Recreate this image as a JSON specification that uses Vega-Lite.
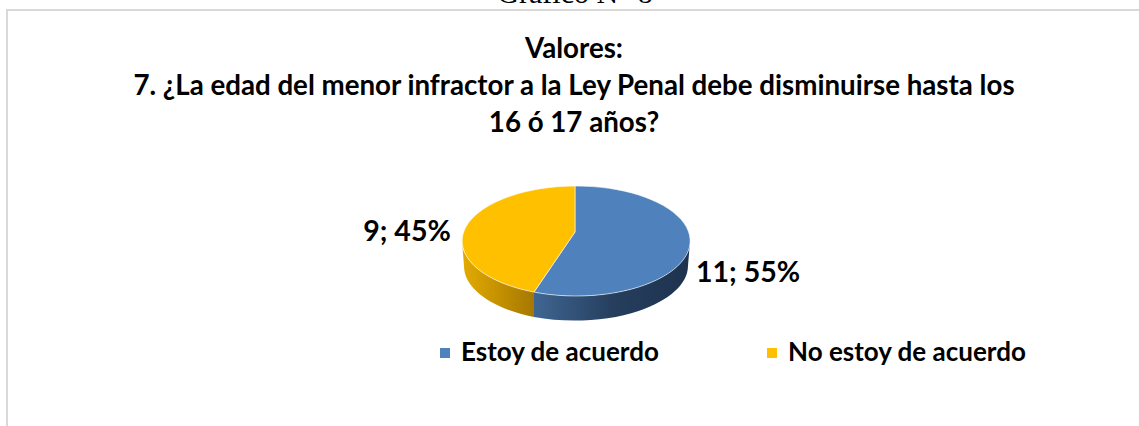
{
"$schema":"https://vega.github.io/schema/vega-lite/v6.json",
"width":1140,"height":425,
"autosize":{"type":"none"},
"padding":{"left":7,"top":10,"right":0,"bottom":0},
"background":"white",
"view":{"stroke":"#d9d9d9","strokeWidth":2,"fill":"white"},
"title":{"text":["Valores:","7. ¿La edad del menor infractor a la Ley Penal debe disminuirse hasta los","16 ó 17 años?"],"anchor":"middle","frame":"group","baseline":"top","offset":-159,"dx":-3,"font":"Lato","fontSize":27.7,"fontWeight":"bold","lineHeight":37,"color":"#000000"},
"data":{"values":[
{"categoria":"Estoy de acuerdo","valor":11,"porcentaje":55,"etiqueta":"11; 55%"},
{"categoria":"No estoy de acuerdo","valor":9,"porcentaje":45,"etiqueta":"9; 45%"}
]},
"layer":[
{"transform":[{"filter":"datum.categoria==='Estoy de acuerdo'"}],
 "mark":{"type":"point","filled":true,"opacity":1,"size":4,"shape":"M113,18.5 A114,55 0 0 1 -43,69.6 L-43,94.6 A114,55 0 0 0 111,43.5 Z",
 "fill":{"gradient":"linear","x1":0,"y1":0,"x2":1,"y2":0,"stops":[{"offset":0,"color":"#3f6692"},{"offset":0.5,"color":"#263f5e"},{"offset":1,"color":"#1d324e"}]}},"encoding":{}},
{"transform":[{"filter":"datum.categoria==='No estoy de acuerdo'"}],
 "mark":{"type":"point","filled":true,"opacity":1,"size":4,"shape":"M-115,18.5 A114,55 0 0 0 -43,69.6 L-43,94.6 A114,55 0 0 1 -113,43.5 Z",
 "fill":{"gradient":"linear","x1":0,"y1":0,"x2":1,"y2":0,"stops":[{"offset":0,"color":"#e3ab00"},{"offset":1,"color":"#a67800"}]}},"encoding":{}},
{"transform":[{"filter":"datum.categoria==='Estoy de acuerdo'"}],
 "mark":{"type":"point","filled":true,"opacity":1,"size":4,"stroke":"#ffffff","strokeWidth":0.6,"shape":"M-2,9.5 L-2,-36.5 A114,55 0 1 1 -43,69.6 Z"},
 "encoding":{"color":{"field":"categoria","type":"nominal","scale":{"domain":["Estoy de acuerdo","No estoy de acuerdo"],"range":["#4f81bd","#ffc000"]},
   "legend":{"title":null,"orient":"none","direction":"horizontal","columns":2,"legendX":425,"legendY":330,"symbolType":"square","symbolSize":100,"symbolStrokeWidth":0,"symbolOpacity":1,"labelFont":"Lato","labelFontSize":26,"labelFontWeight":"bold","labelColor":"#000000","labelLimit":400,"columnPadding":99,"labelOffset":3}}}},
{"transform":[{"filter":"datum.categoria==='No estoy de acuerdo'"}],
 "mark":{"type":"point","filled":true,"opacity":1,"size":4,"stroke":"#ffffff","strokeWidth":0.6,"shape":"M-2,9.5 L-43,69.6 A114,55 0 0 1 -2,-36.5 Z"},
 "encoding":{"color":{"field":"categoria","type":"nominal"}}},
{"transform":[{"filter":"datum.categoria==='Estoy de acuerdo'"}],
 "mark":{"type":"text","font":"Lato","fontSize":28.5,"fontWeight":"bold","color":"#000000","baseline":"alphabetic","align":"center","dx":171,"dy":59.5},
 "encoding":{"text":{"field":"etiqueta"}}},
{"transform":[{"filter":"datum.categoria==='No estoy de acuerdo'"}],
 "mark":{"type":"text","font":"Lato","fontSize":28.5,"fontWeight":"bold","color":"#000000","baseline":"alphabetic","align":"center","dx":-170,"dy":18.5},
 "encoding":{"text":{"field":"etiqueta"}}},
{"transform":[{"filter":"datum.categoria==='Estoy de acuerdo'"}],
 "mark":{"type":"text","font":"Liberation Serif","fontSize":30,"color":"#000000","baseline":"alphabetic","align":"center","dx":-2,"dy":-219.5,"clip":false},
 "encoding":{"text":{"value":"Gráfico N° 8"}}}
]
}
